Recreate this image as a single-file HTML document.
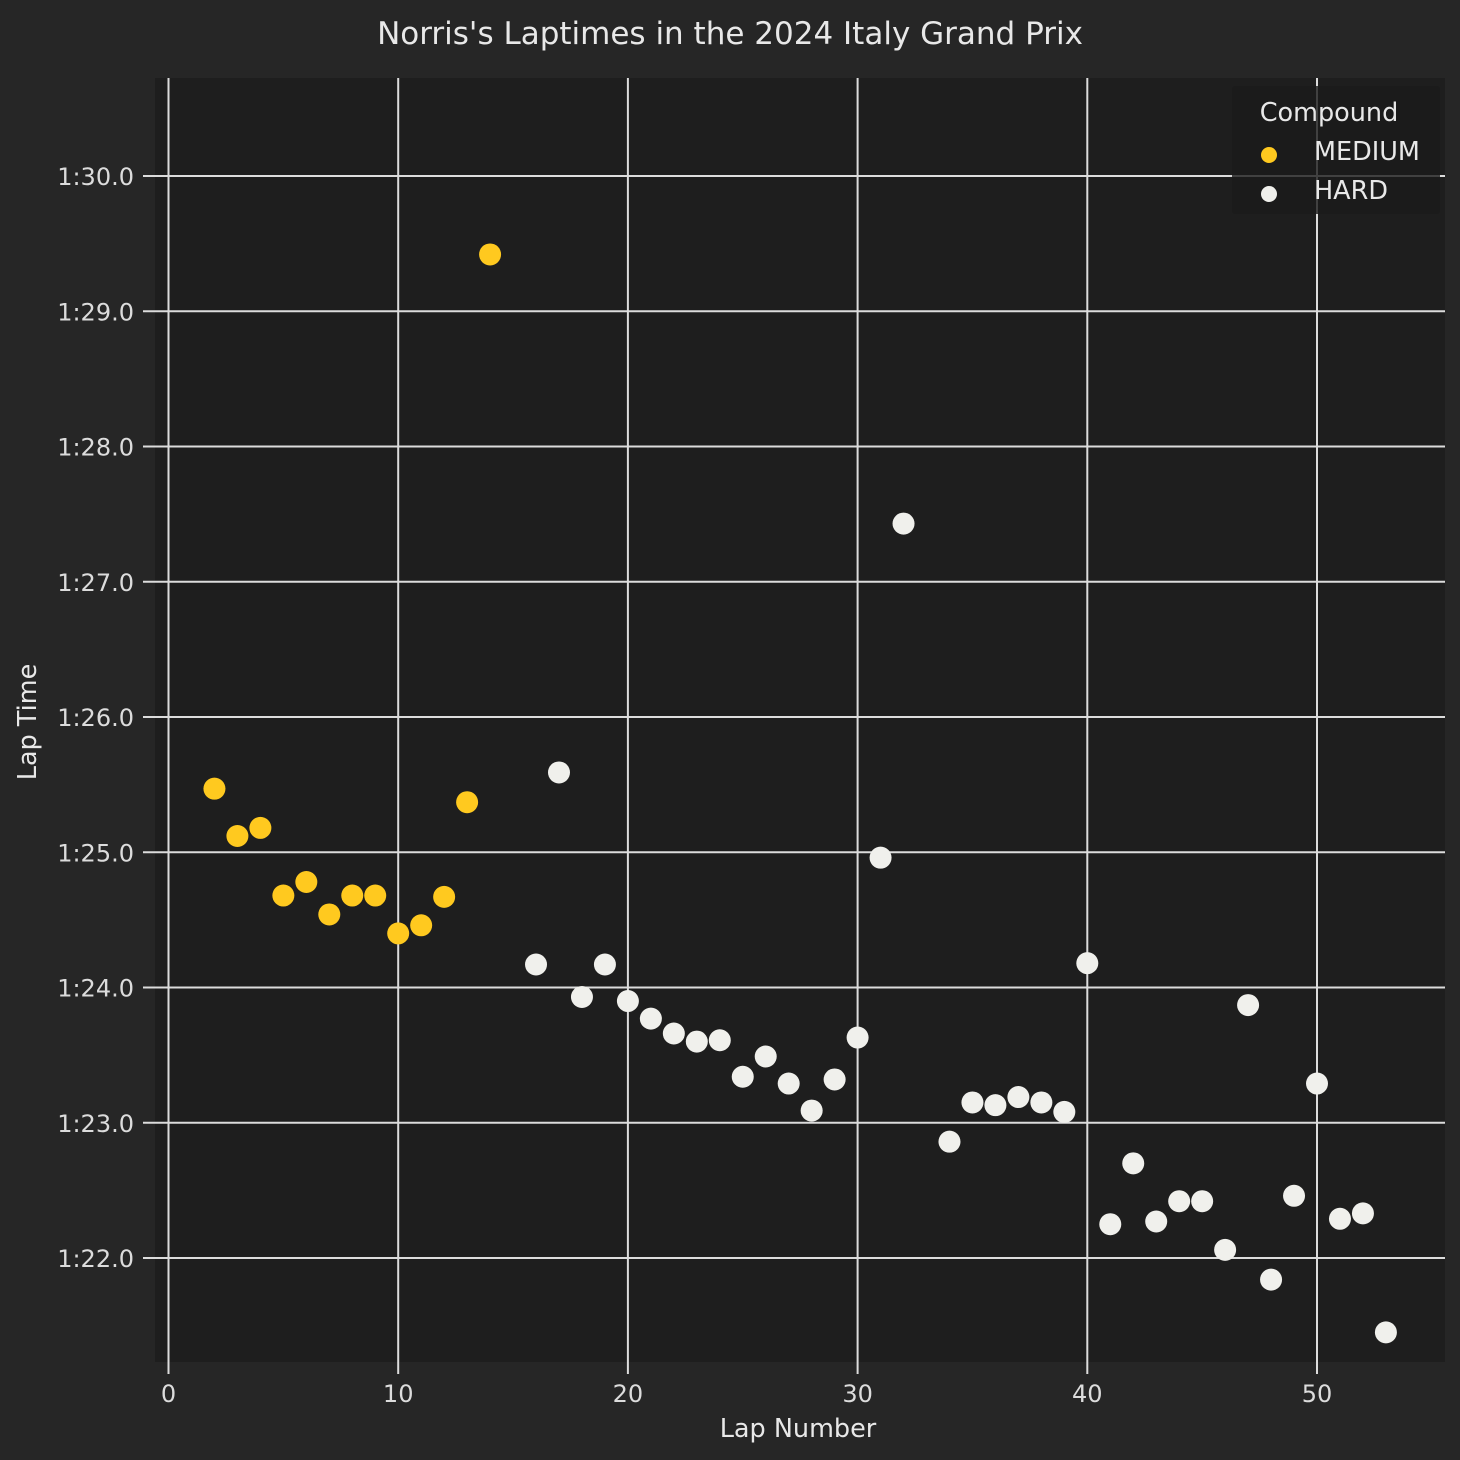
<!DOCTYPE html>
<html><head><meta charset="utf-8"><style>
html,body{margin:0;padding:0;background:#262626;}
svg{display:block;font-family:"DejaVu Sans","Liberation Sans",sans-serif;}
</style></head><body>
<svg id="chart" width="1460" height="1460" viewBox="0 0 1460 1460">
<rect x="0" y="0" width="1460" height="1460" fill="#262626"/>
<rect x="155" y="78" width="1290" height="1284" fill="#1e1e1e"/>
<g id="grid"></g>
<g id="pts"></g>
<text x="730" y="44" text-anchor="middle" fill="#e8e8e8" font-size="31">Norris's Laptimes in the 2024 Italy Grand Prix</text>
<text x="798" y="1437" text-anchor="middle" fill="#e8e8e8" font-size="25.5">Lap Number</text>
<text transform="translate(36,722) rotate(-90)" text-anchor="middle" fill="#e8e8e8" font-size="25.5">Lap Time</text>
<g>
<rect x="1232" y="86" width="208" height="128" fill="#1a1a1a" fill-opacity="0.8" rx="3"/>
<text x="1329" y="121" text-anchor="middle" fill="#e8e8e8" font-size="25.5">Compound</text>
<circle cx="1269" cy="155" r="8" fill="#ffc91f"/>
<text x="1314" y="160" fill="#e8e8e8" font-size="25.5">MEDIUM</text>
<circle cx="1269" cy="194" r="8" fill="#f0f0ec"/>
<text x="1314" y="199" fill="#e8e8e8" font-size="25.5">HARD</text>
</g>
</svg>
<script>
const xTicks=[0,10,20,30,40,50];
const yTicks=[82,83,84,85,86,87,88,89,90];
const yTickLabels=["1:22.0","1:23.0","1:24.0","1:25.0","1:26.0","1:27.0","1:28.0","1:29.0","1:30.0"];
const mediumLaps=[2,3,4,5,6,7,8,9,10,11,12,13,14];
const mediumTimes=[85.47,85.12,85.18,84.68,84.78,84.54,84.68,84.68,84.40,84.46,84.67,85.37,89.42];
const hardLaps=[16,17,18,19,20,21,22,23,24,25,26,27,28,29,30,31,32,34,35,36,37,38,39,40,41,42,43,44,45,46,47,48,49,50,51,52,53];
const hardTimes=[84.17,85.59,83.93,84.17,83.90,83.77,83.66,83.60,83.61,83.34,83.49,83.29,83.09,83.32,83.63,84.96,87.43,82.86,83.15,83.13,83.19,83.15,83.08,84.18,82.25,82.70,82.27,82.42,82.42,82.06,83.87,81.84,82.46,83.29,82.29,82.33,81.45];

const NS="http://www.w3.org/2000/svg";
function xs(v){return 168.5+v*22.97;}
function ys(v){return 176+(90-v)*135.25;}
function mk(tag,attrs,parent){const e=document.createElementNS(NS,tag);for(const k in attrs)e.setAttribute(k,attrs[k]);parent.appendChild(e);return e;}
const grid=document.getElementById('grid');
xTicks.forEach(t=>{
  const l=mk('line',{x1:xs(t),x2:xs(t),y1:78,y2:1374,stroke:'#dcdcdc','stroke-width':2},grid);
  
  
  const tx=mk('text',{x:xs(t),y:1402,'text-anchor':'middle',fill:'#dcdcdc','font-size':24},grid);
  tx.textContent=t;
  
  
});
yTicks.forEach((t,i)=>{
  const l=mk('line',{x1:143,x2:1445,y1:ys(t),y2:ys(t),stroke:'#dcdcdc','stroke-width':2},grid);
  
  
  const tx=mk('text',{x:134,y:ys(t)+9,'text-anchor':'end',fill:'#dcdcdc','font-size':24},grid);
  tx.textContent=yTickLabels[i];
  
  
});
const pts=document.getElementById('pts');
mediumLaps.forEach((l,i)=>{
  const c=mk('circle',{cx:xs(l),cy:ys(mediumTimes[i]),r:11,fill:'#ffc91f'},pts);
  
  
});
hardLaps.forEach((l,i)=>{
  const c=mk('circle',{cx:xs(l),cy:ys(hardTimes[i]),r:11,fill:'#f0f0ec'},pts);
  
  
});
</script>
</body></html>
